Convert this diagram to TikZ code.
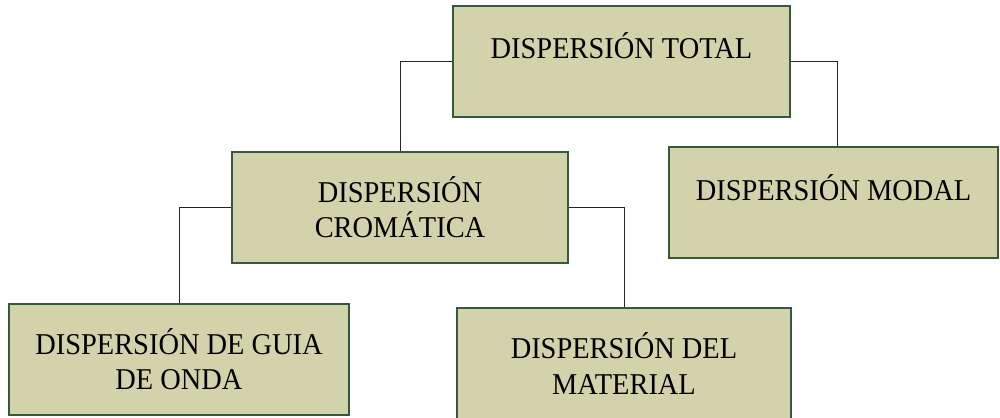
\documentclass[tikz,border=0pt]{standalone}
\usepackage{fontspec}
\setmainfont[FakeStretch=0.94]{Liberation Serif}
\usepackage{xcolor}
\usetikzlibrary{positioning}

\definecolor{cajafondo}{RGB}{210,211,170}
\definecolor{cajaborde}{RGB}{55,88,60}

\begin{document}
\begin{tikzpicture}[x=0.02cm, y=-0.02cm,
  caja/.style={draw=cajaborde, fill=cajafondo, line width=0.8pt,
    minimum height=2.22cm, inner sep=0pt, align=center,
    font=\fontsize{17.2}{20}\selectfont},
  rama/.style={draw=black!85, line width=0.5pt}]
\useasboundingbox (0,0) rectangle (1000,418);

% cajas del arbol
\node[caja, minimum width=6.74cm] (total) at (621.5,61.5)
  {DISPERSIÓN TOTAL\\[-2pt]\mbox{}};
\node[caja, minimum width=6.72cm] (cromatica) at (400,207.5)
  {DISPERSIÓN\\CROMÁTICA};
\node[caja, minimum width=6.58cm] (modal) at (833.5,202.5)
  {DISPERSIÓN MODAL\\[-3pt]\mbox{}};
\node[caja, minimum width=6.80cm] (guia) at (179,359.5)
  {DISPERSIÓN DE GUIA\\DE ONDA};
\node[caja, minimum width=6.68cm] (material) at (624,363.5)
  {DISPERSIÓN DEL\\MATERIAL};

% ramas
\draw[rama] (total.west) -| (cromatica.north);
\draw[rama] (total.east) -| ([xshift=2.5pt]modal.north);
\draw[rama] (cromatica.west) -| (guia.north);
\draw[rama] (cromatica.east) -| (material.north);
\end{tikzpicture}
\end{document}
